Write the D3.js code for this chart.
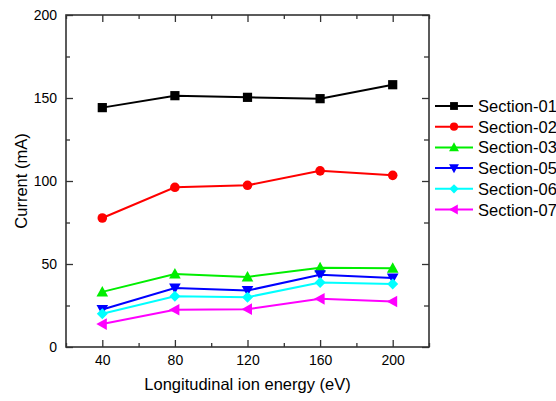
<!DOCTYPE html>
<html>
<head>
<meta charset="utf-8">
<script src="https://cdn.jsdelivr.net/npm/d3@7"></script>
<style>
  body { margin: 0; background: #fff; }
  text { font-family: Arial, "Liberation Sans", sans-serif; fill: #000; }
</style>
</head>
<body>
<div id="chart"></div>
<script>
// data
var energies = [40, 80, 120, 160, 200];
var names = ["Section-01", "Section-02", "Section-03", "Section-05", "Section-06", "Section-07"];
var sec01 = [144.2, 151.4, 150.4, 149.6, 158];
var sec02 = [77.7, 96.2, 97.4, 106.1, 103.4];
var sec03 = [33.2, 44, 42.2, 47.8, 47.4];
var sec05 = [22.6, 35.5, 34, 43.5, 41.5];
var sec06 = [20, 30.6, 30, 38.8, 37.9];
var sec07 = [13.8, 22.4, 22.8, 29, 27.4];
var colors = ["#000000", "#ff0000", "#00ee00", "#0000ff", "#00ffff", "#ff00ff"];
var symbols = ["square", "circle", "triUp", "triDown", "diamond", "triLeft"];
var xTicks = [40, 80, 120, 160, 200];
var yTicks = [0, 50, 100, 150, 200];

var series = [sec01, sec02, sec03, sec05, sec06, sec07].map(function(v, i) {
    return {name: names[i], color: colors[i], sym: symbols[i], values: v};
});

var width = 556, height = 401;
var margin = {left: 66, right: 127, top: 15, bottom: 54};

var svg = d3.select("#chart").append("svg")
    .attr("width", width)
    .attr("height", height);

var x = d3.scaleLinear().domain([20, 220]).range([margin.left, width - margin.right]);
var y = d3.scaleLinear().domain([0, 200]).range([height - margin.bottom, margin.top]);

// marker shapes
function marker(g, sym, color) {
    var s = 4.6;
    if (sym == "square") {
        g.append("rect").attr("x", -s).attr("y", -s).attr("width", 2 * s).attr("height", 2 * s).attr("fill", color);
    } else if (sym == "circle") {
        g.append("circle").attr("r", 4.8).attr("fill", color);
    } else if (sym == "diamond") {
        g.append("path").attr("d", "M0,-5.5L5.5,0L0,5.5L-5.5,0Z").attr("fill", color);
    } else {
        var p;
        if (sym == "triUp") p = "M0,-6L5.8,4.5L-5.8,4.5Z";
        if (sym == "triDown") p = "M0,6L5.8,-4.5L-5.8,-4.5Z";
        if (sym == "triLeft") p = "M-6,0L4.5,-5.8L4.5,5.8Z";
        g.append("path").attr("d", p).attr("fill", color);
    }
}

var line = d3.line()
    .x(function(d, i) { return x(energies[i]); })
    .y(function(d) { return y(d); });

series.forEach(function(s) {
    svg.append("path")
        .attr("d", line(s.values))
        .attr("fill", "none")
        .attr("stroke", s.color)
        .attr("stroke-width", 2);
    s.values.forEach(function(v, i) {
        var g = svg.append("g").attr("transform", "translate(" + x(energies[i]) + "," + y(v) + ")");
        marker(g, s.sym, s.color);
    });
});

// axes with inward ticks
var axisColor = "#333";
var x0 = x.range()[0], x1 = x.range()[1], y0 = y.range()[0], y1 = y.range()[1];
var minorX = d3.range(20, 221, 20).filter(function(d) { return xTicks.indexOf(d) < 0; });
var minorY = d3.range(25, 200, 50);

svg.append("g").attr("transform", "translate(0," + y0 + ")")
    .call(d3.axisBottom(x).tickValues(xTicks).tickSize(-7).tickPadding(8).tickFormat(d3.format("d")));
svg.append("g").attr("transform", "translate(0," + y1 + ")")
    .call(d3.axisTop(x).tickValues(xTicks).tickSize(-7).tickFormat(""));
svg.append("g").attr("transform", "translate(" + x0 + ",0)")
    .call(d3.axisLeft(y).tickValues(yTicks).tickSize(-7).tickPadding(9).tickFormat(d3.format("d")));
svg.append("g").attr("transform", "translate(" + x1 + ",0)")
    .call(d3.axisRight(y).tickValues(yTicks).tickSize(-7).tickFormat(""));

svg.append("g").attr("transform", "translate(0," + y0 + ")")
    .call(d3.axisBottom(x).tickValues(minorX).tickSize(-4).tickFormat(""));
svg.append("g").attr("transform", "translate(0," + y1 + ")")
    .call(d3.axisTop(x).tickValues(minorX).tickSize(-4).tickFormat(""));
svg.append("g").attr("transform", "translate(" + x0 + ",0)")
    .call(d3.axisLeft(y).tickValues(minorY).tickSize(-4).tickFormat(""));
svg.append("g").attr("transform", "translate(" + x1 + ",0)")
    .call(d3.axisRight(y).tickValues(minorY).tickSize(-5).tickFormat(""));

svg.selectAll(".domain").remove();
svg.selectAll(".tick line").attr("stroke", axisColor).attr("stroke-width", 1.3);
svg.selectAll(".tick text").style("font-size", "14px").style("font-family", "Arial, 'Liberation Sans', sans-serif").attr("fill", "#000");

svg.append("rect")
    .attr("x", x0).attr("y", y1)
    .attr("width", x1 - x0).attr("height", y0 - y1)
    .attr("fill", "none")
    .attr("stroke", axisColor)
    .attr("stroke-width", 1.6);

// axis titles
svg.append("text")
    .attr("x", (x0 + x1) / 2).attr("y", 390)
    .attr("text-anchor", "middle")
    .style("font-size", "16.5px")
    .text("Longitudinal ion energy (eV)");

svg.append("text")
    .attr("transform", "translate(27," + ((y0 + y1) / 2) + ") rotate(-90)")
    .attr("text-anchor", "middle")
    .style("font-size", "16.5px")
    .text("Current (mA)");

// legend
var legend = svg.append("g").attr("transform", "translate(435,106)");
series.forEach(function(s, i) {
    var row = legend.append("g").attr("transform", "translate(0," + (i * 20.7) + ")");
    row.append("line").attr("x1", 0).attr("x2", 38).attr("y1", 0).attr("y2", 0)
        .attr("stroke", s.color).attr("stroke-width", 2);
    var m = row.append("g");
    marker(m, s.sym, s.color);
    m.attr("transform", "translate(19,0) scale(0.85)");
    row.append("text").attr("x", 43).attr("y", 6)
        .style("font-size", "16.5px")
        .text(s.name);
});
</script>
</body>
</html>
